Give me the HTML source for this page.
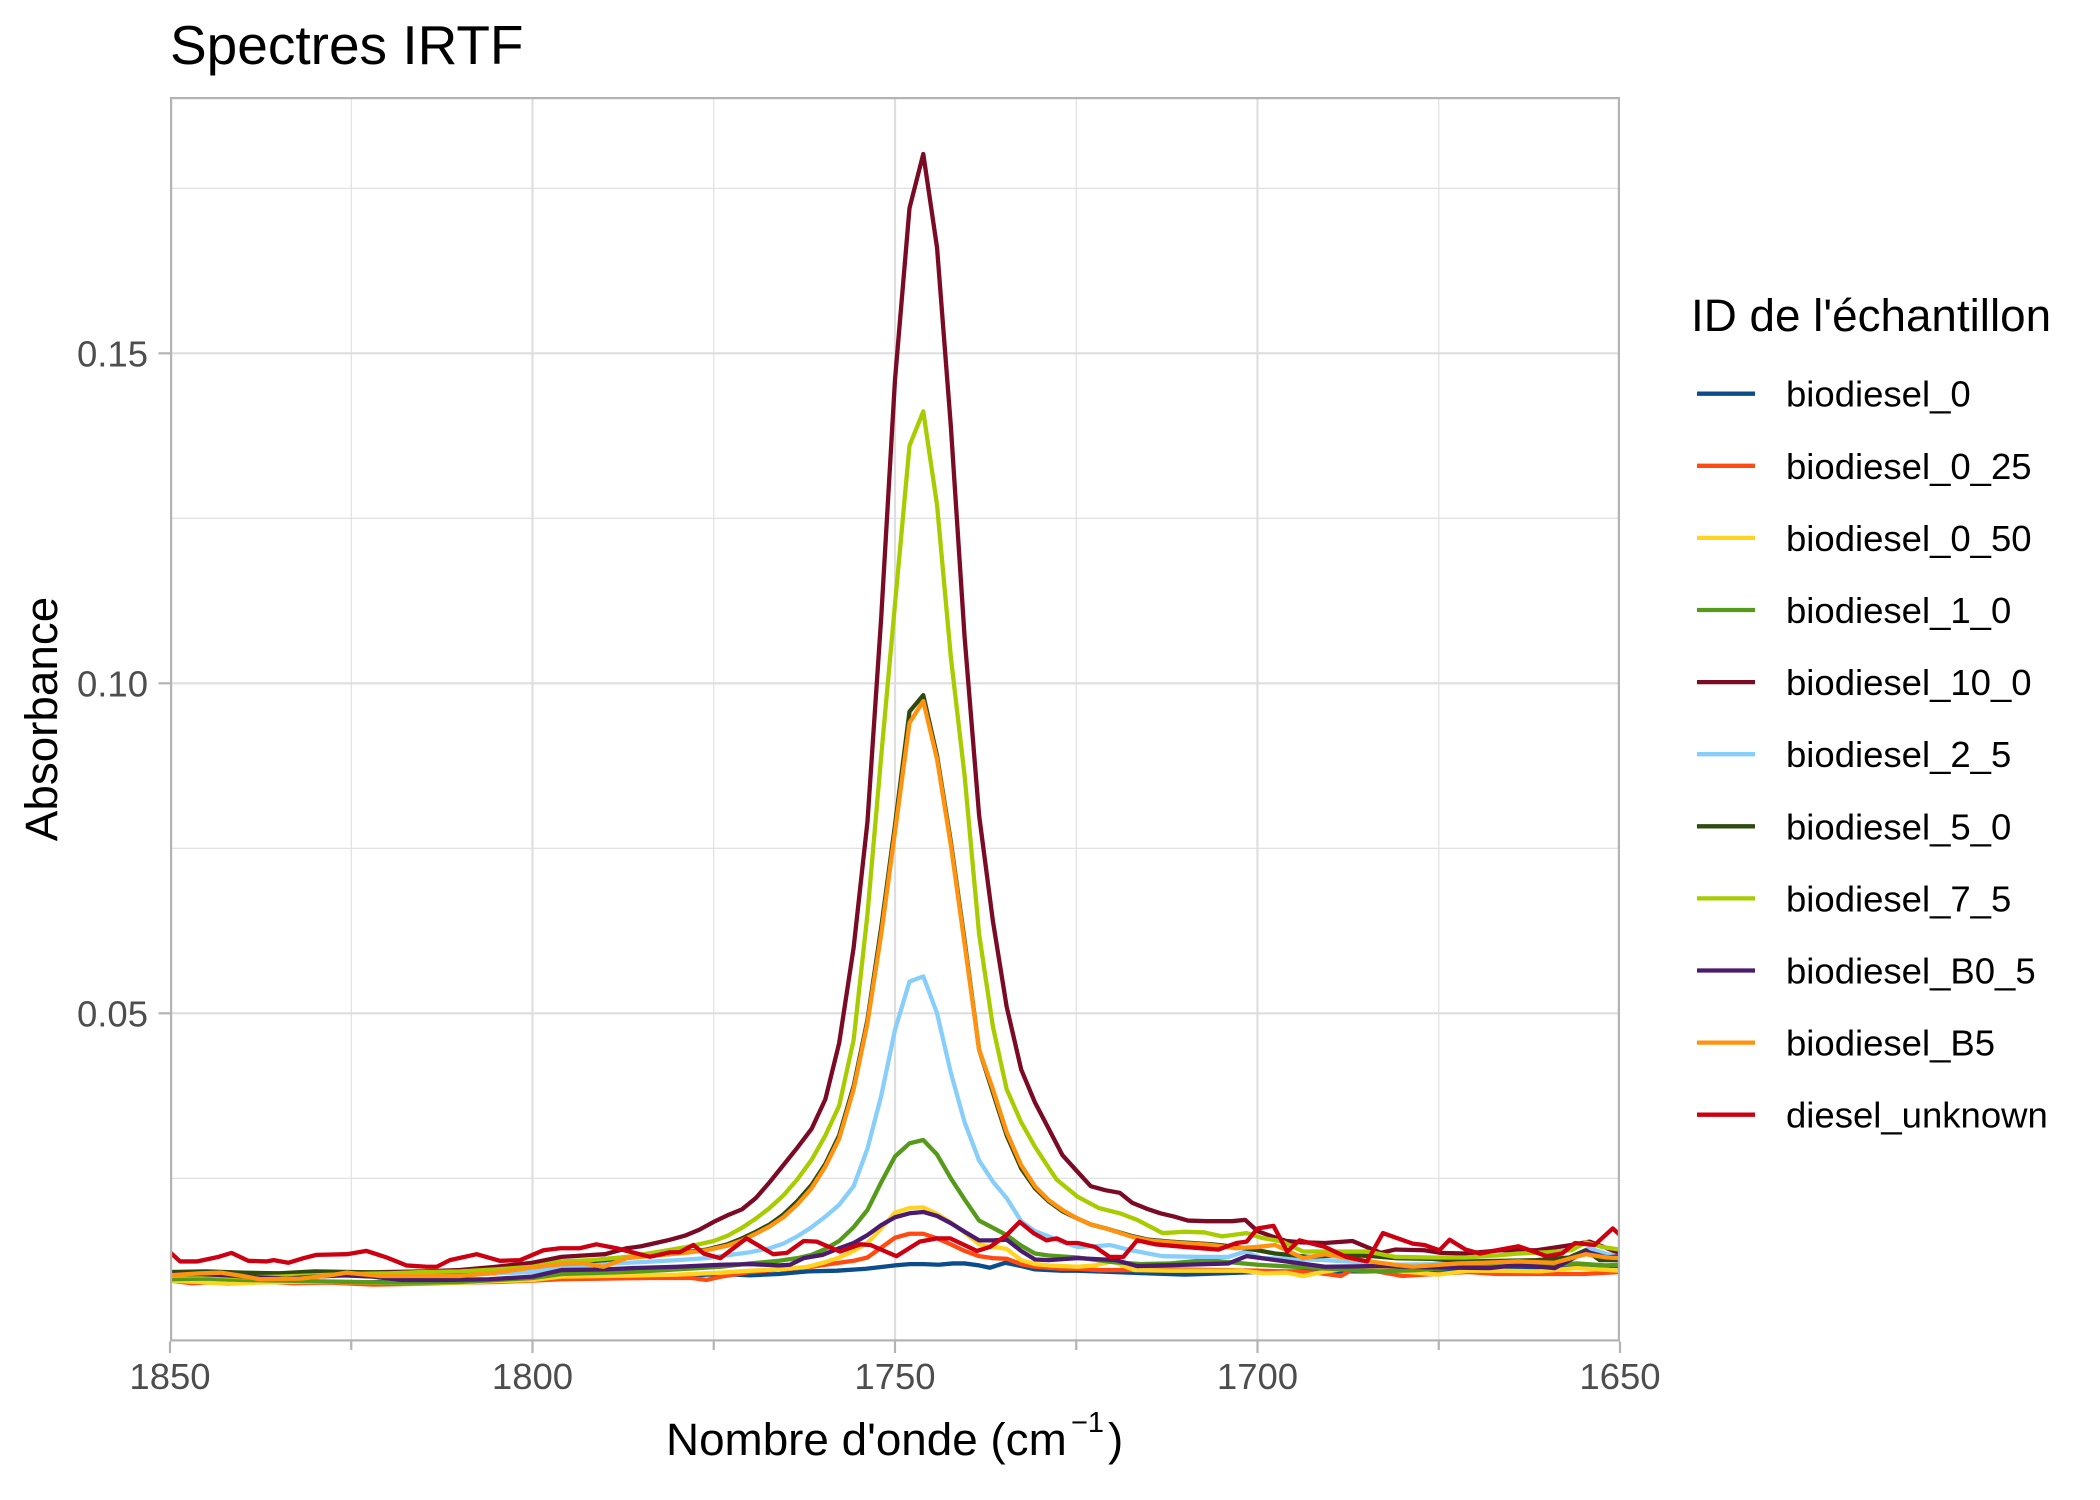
<!DOCTYPE html>
<html>
<head>
<meta charset="utf-8">
<style>
  html, body { margin: 0; padding: 0; background: #ffffff; }
  svg { display: block; }
  text { font-family: "Liberation Sans", Arial, sans-serif; }
</style>
</head>
<body>
<svg xmlns="http://www.w3.org/2000/svg" width="2100" height="1500" viewBox="0 0 2100 1500">
  <defs>
    <clipPath id="panel">
      <rect x="170" y="97" width="1450" height="1244.5"/>
    </clipPath>
  </defs>
  <rect x="0" y="0" width="2100" height="1500" fill="#ffffff"/>

  <!-- Title -->
  <text x="170" y="64" font-size="55" fill="#000000">Spectres IRTF</text>

  <!-- Grid -->
  <g clip-path="url(#panel)">
    <g stroke="#DEDEDE" stroke-width="1.1" fill="none">
      <line x1="170" y1="1178.3" x2="1620" y2="1178.3"/>
      <line x1="170" y1="848.3" x2="1620" y2="848.3"/>
      <line x1="170" y1="518.3" x2="1620" y2="518.3"/>
      <line x1="170" y1="188.3" x2="1620" y2="188.3"/>
      <line x1="351.25" y1="97" x2="351.25" y2="1342"/>
      <line x1="713.75" y1="97" x2="713.75" y2="1342"/>
      <line x1="1076.25" y1="97" x2="1076.25" y2="1342"/>
      <line x1="1438.75" y1="97" x2="1438.75" y2="1342"/>
    </g>
    <g stroke="#DEDEDE" stroke-width="2.2" fill="none">
      <line x1="170" y1="1013.3" x2="1620" y2="1013.3"/>
      <line x1="170" y1="683.3" x2="1620" y2="683.3"/>
      <line x1="170" y1="353.3" x2="1620" y2="353.3"/>
      <line x1="532.5" y1="97" x2="532.5" y2="1342"/>
      <line x1="895" y1="97" x2="895" y2="1342"/>
      <line x1="1257.5" y1="97" x2="1257.5" y2="1342"/>
    </g>

    <!-- Series -->
    <g fill="none" stroke-width="4.3" stroke-linejoin="round" stroke-linecap="butt">
      <g transform="matrix(-7.25 0 0 -6.6 13582.5 1343.3)">
        <polyline vector-effect="non-scaling-stroke" stroke="#0B4C8C" points="1850,9.6 1845,9.4 1840,9.3 1835,9.5 1830,9.3 1825,9.2 1820,9.3 1815,9.2 1810,9.3 1805,9.5 1800,9.7 1796,9.8 1790,9.9 1785,10.0 1780,10.2 1774,10.5 1770,10.3 1766,10.5 1762,10.9 1758,11.0 1754,11.3 1750,11.8 1748,12.0 1746,12.0 1744,11.9 1742,12.1 1740.4,12.1 1738.4,11.8 1736.9,11.45 1734.8,12.2 1732.6,11.7 1730.7,11.2 1727,11.0 1724.8,11.0 1720,10.8 1715,10.6 1710,10.4 1705,10.6 1700,10.8 1695,10.9 1690,10.9 1685,10.9 1680,11.0 1675,11.1 1670,11.1 1665,11.3 1660,11.6 1656,11.7 1653,11.8 1650,11.7"/>
        <polyline vector-effect="non-scaling-stroke" stroke="#FF4A12" points="1850,9.5 1847,9.1 1843,9.3 1838,9.4 1833,9.1 1828,9.2 1822,8.9 1816,9.0 1810,9.2 1805,9.3 1800,9.5 1796,9.7 1790,9.8 1784,9.9 1778,9.9 1776,9.6 1774,10.1 1770,10.8 1766,11.2 1762,11.5 1759.6,11.9 1757.7,12.2 1755.7,12.5 1753.8,13.0 1751.9,14.5 1750,16.0 1748,16.6 1746.1,16.6 1744.2,15.9 1742.3,15.0 1740.4,14.0 1738.4,13.2 1736.5,12.9 1734.6,12.8 1732.6,12.0 1730.7,11.6 1727,11.3 1724.8,11.3 1722,11.1 1718,11.1 1712,11.2 1705,11.1 1700,11.0 1696,10.9 1692,10.7 1688.5,10.2 1686.5,11.4 1683,10.8 1680,10.2 1677,10.4 1671,10.8 1667,10.5 1660,10.5 1655,10.5 1650,10.8"/>
        <polyline vector-effect="non-scaling-stroke" stroke="#FFD320" points="1850,9.5 1846,9.3 1842,9.0 1838,9.2 1833,9.3 1828,9.3 1822,9.2 1816,9.1 1810,9.2 1805,9.4 1800,9.6 1796,10.1 1790,10.2 1785,10.3 1780,10.4 1774,10.7 1770,11.0 1766,11.2 1762,11.6 1759.6,12.3 1757.7,13.0 1755.7,14.0 1753.8,15.2 1751.9,17.4 1750,19.8 1748,20.5 1746.1,20.6 1744.2,19.6 1742.3,18.3 1740.4,16.8 1738.4,15.0 1736.5,14.6 1734.6,14.3 1732.6,12.6 1730.7,12.0 1728.8,11.8 1724.8,11.6 1722.5,11.8 1720,12.4 1717,11.1 1712,11.0 1706,11.0 1702,11.0 1699,10.6 1696,10.7 1693.7,10.2 1691,10.8 1688,11.3 1685,11.6 1681,11.0 1678,10.7 1675,10.4 1671,11.0 1667,11.0 1661,10.9 1656,11.4 1653,11.2 1650,11.0"/>
        <polyline vector-effect="non-scaling-stroke" stroke="#569A1C" points="1850,9.7 1845,9.8 1840,9.6 1835,9.5 1830,9.4 1825,9.3 1820,9.2 1815,9.2 1810,9.3 1805,9.6 1800,9.9 1796,10.5 1790,10.7 1785,10.9 1780,11.2 1774,11.6 1770,12.1 1766,12.5 1763.5,12.9 1761.5,13.4 1759.6,14.3 1757.7,15.5 1755.7,17.6 1753.8,20.2 1751.9,24.4 1750,28.3 1748,30.3 1746.1,30.8 1744.2,28.6 1742.3,25.0 1740.4,21.8 1738.4,18.6 1736.5,17.5 1734.6,16.4 1732.6,14.8 1730.7,13.6 1728.8,13.3 1724.8,13.0 1720,12.3 1716,12.0 1712,12.1 1707,12.6 1703,12.2 1700,11.9 1695,11.6 1690,11.3 1686,11.0 1683,10.9 1678,11.1 1674,11.4 1670,11.7 1665,11.9 1660,11.8 1656,12.1 1652,11.8 1650,11.9"/>
        <polyline vector-effect="non-scaling-stroke" stroke="#7B0A25" points="1850,10.6 1845,10.5 1840,10.6 1835,10.6 1830,10.7 1825,10.7 1820,10.8 1815,10.9 1810,11.1 1805,11.6 1800,12.2 1796,13.1 1793,13.3 1790,13.5 1787,14.4 1785,14.7 1783,15.2 1781,15.7 1779,16.3 1777,17.2 1775,18.4 1773.1,19.4 1771.1,20.3 1769.2,22.0 1767.3,24.4 1765.4,27.0 1763.5,29.6 1761.5,32.5 1759.6,37.0 1757.7,45.5 1755.7,60 1753.8,79 1751.9,110 1750,146 1748,172 1746.1,180.2 1744.2,166 1742.3,139 1740.4,107 1738.4,80 1736.5,64 1734.6,51 1732.6,41.5 1730.7,36.5 1728.8,32.5 1726.9,28.5 1725,26.2 1723,23.8 1721,23.2 1719,22.8 1717.3,21.3 1715.3,20.4 1713.4,19.7 1711.5,19.2 1709.6,18.6 1707,18.5 1703.5,18.5 1701.7,18.7 1700,17.0 1698,16.2 1696,15.5 1694,15.3 1690.7,15.2 1686.9,15.5 1683,13.7 1681,14.2 1677,14.1 1674.7,13.7 1671.3,13.6 1666.4,14.1 1661.5,14.1 1656.7,14.9 1654.2,15.4 1652,14.5 1650,13.6"/>
        <polyline vector-effect="non-scaling-stroke" stroke="#87CEFA" points="1850,10.4 1846,10.9 1842,10.6 1838,10.0 1834,10.1 1830,10.2 1825,10.3 1820,10.0 1815,10.1 1810,10.3 1805,10.6 1800,10.8 1796,11.6 1790,12.0 1785,12.3 1780,12.6 1776,12.9 1774,13.2 1770,13.8 1767.3,14.4 1765.4,15.1 1763.5,16.2 1761.5,17.6 1759.6,19.2 1757.7,21.0 1755.7,23.8 1753.8,29.5 1751.9,37.5 1750,47.5 1748,54.8 1746.1,55.6 1744.2,50 1742.3,41 1740.4,33.5 1738.4,27.7 1736.5,24.5 1734.6,22.0 1732.6,18.5 1730.7,17.0 1728.8,16.2 1726.9,15.3 1724.8,14.6 1722.4,14.7 1720.4,14.9 1717.5,14.1 1713.1,13.2 1708,13.1 1704,13.1 1701.7,13.9 1699.5,12.9 1695,12.8 1690.7,12.6 1686,12.3 1681,11.9 1676,12.0 1671.3,12.2 1666,12.3 1661.5,12.1 1657,13.0 1654.2,14.4 1652,13.6 1650,13.1"/>
        <polyline vector-effect="non-scaling-stroke" stroke="#2E4A0E" points="1850,10.8 1845,10.9 1840,10.7 1835,10.6 1830,10.9 1825,10.8 1820,10.7 1815,10.6 1810,10.8 1805,11.1 1800,11.5 1796,12.1 1790,12.6 1787,13.0 1783,13.3 1779,13.8 1776,14.2 1773.1,15.0 1771.1,15.9 1769.2,16.9 1767.3,18.0 1765.4,19.5 1763.5,21.5 1761.5,24.0 1759.6,27.2 1757.7,31.5 1755.7,39 1753.8,49 1751.9,63 1750,78.5 1748,95.7 1746.1,98.2 1744.2,89 1742.3,76 1740.4,61 1738.4,44.5 1736.5,38 1734.6,31.5 1732.6,26.5 1730.7,23.5 1728.8,21.5 1726.9,20.0 1725,19.0 1723,18.0 1720.9,17.4 1717.5,16.3 1715.1,15.7 1712,15.4 1706.3,15.0 1703,14.6 1700,14.1 1697.6,13.6 1695.6,13.4 1693,13.1 1688,13.4 1684,13.2 1681,12.9 1676,12.8 1671,12.4 1666,12.5 1661.5,12.6 1657,13.0 1654.7,14.1 1652.8,12.6 1650,12.6"/>
        <polyline vector-effect="non-scaling-stroke" stroke="#A8CC00" points="1850,10.2 1845,10.3 1840,10.0 1835,10.1 1830,10.3 1825,10.5 1820,10.6 1815,10.8 1810,10.9 1805,11.2 1800,11.6 1796,12.4 1792,12.6 1787,13.1 1783,13.8 1778.7,14.6 1775,15.5 1773.1,16.3 1771.1,17.5 1769.2,18.9 1767.3,20.5 1765.4,22.4 1763.5,24.8 1761.5,27.8 1759.6,31.5 1757.7,36.0 1755.7,46 1753.8,65 1751.9,89 1750,112 1748,136 1746.1,141.2 1744.2,127 1742.3,104 1740.4,86 1738.4,62 1736.5,48 1734.6,38.5 1732.6,33.5 1730.7,29.8 1728.8,26.6 1727.7,24.8 1724.8,22.2 1721.9,20.5 1719,19.7 1716.6,18.7 1713.1,16.7 1710,16.9 1707.3,16.8 1704.9,16.2 1701.5,16.7 1699.5,16.0 1696.6,15.4 1693.7,13.9 1689,13.9 1684.9,13.9 1681,13.1 1676,13.0 1671.3,13.0 1667,13.3 1664,13.6 1660,13.8 1656.7,14.1 1654.7,15.3 1652.5,14.6 1650,14.2"/>
        <polyline vector-effect="non-scaling-stroke" stroke="#4A1B6E" points="1850,10.4 1846,10.5 1842,10.3 1838,10.0 1834,9.8 1830,10.1 1826,10.3 1822,10.1 1818,9.6 1812,9.6 1806,9.7 1800,10.1 1796,11.1 1790,11.2 1786,11.4 1780,11.6 1776,11.8 1774,11.9 1770,12.0 1766,11.8 1764.5,11.9 1762.6,12.9 1760,13.4 1757.7,14.4 1755.7,15.2 1753.8,16.4 1751.9,17.9 1750,19.1 1748,19.7 1746.1,19.9 1744.2,19.3 1742.3,18.2 1740.4,16.9 1738.4,15.6 1736.5,15.6 1734.6,15.7 1732.6,14.0 1730.7,12.7 1728.8,12.6 1724.8,12.9 1719.5,12.6 1716.6,11.7 1710,11.9 1704,12.1 1701.5,13.2 1696,12.4 1690.7,11.6 1683,11.7 1676,11.5 1668,11.4 1664,11.9 1659,11.4 1654.7,13.9 1651.8,13.0 1650,13.2"/>
        <polyline vector-effect="non-scaling-stroke" stroke="#FF930F" points="1850,10.3 1846,10.6 1843,10.7 1840,10.2 1837.6,9.7 1832,9.8 1828,10.3 1825.6,10.7 1821,10.2 1815,10.2 1810,10.2 1805,10.7 1800,11.5 1796,12.0 1793,12.1 1790.2,11.6 1787,12.9 1783,13.3 1779,13.7 1776,14.1 1773.1,14.8 1771.1,15.6 1769.2,16.6 1767.3,17.7 1765.4,19.1 1763.5,21.0 1761.5,23.5 1759.6,26.8 1757.7,31.0 1755.7,38.5 1753.8,48.5 1751.9,62 1750,77.5 1748,94 1746.1,97.3 1744.2,88.5 1742.3,75.5 1740.4,60.5 1738.4,44.5 1736.5,38.5 1734.6,32 1732.6,27 1730.7,23.8 1728.8,21.7 1726.9,20.2 1725,19.0 1723,18.0 1720.9,17.4 1717.5,16.2 1715.1,15.6 1712,15.3 1706.3,14.9 1703,14.4 1700,14.6 1697.6,14.9 1695.6,13.9 1693.7,12.9 1690.7,13.5 1688,13.0 1685.9,12.6 1681,11.9 1678.6,11.6 1672.3,12.1 1668.9,12.2 1664,12.4 1659.1,12.2 1654.7,13.5 1651.8,13.0 1650,12.9"/>
        <polyline vector-effect="non-scaling-stroke" stroke="#CC0010" points="1850,13.8 1848.6,12.4 1846.3,12.4 1843.3,13.1 1841.5,13.7 1839.2,12.5 1836.7,12.4 1835.7,12.6 1833.7,12.2 1831.6,12.9 1829.8,13.4 1825.6,13.5 1822.9,14.0 1820.1,13.0 1817.4,11.8 1814.6,11.6 1813.2,11.6 1811.4,12.6 1807.7,13.5 1804.5,12.5 1801.7,12.6 1798.5,14.1 1796.2,14.4 1793.5,14.4 1791.2,15.0 1788.4,14.4 1783.8,13.1 1781,13.8 1779.7,13.8 1777.8,14.9 1776.4,13.6 1774.1,12.9 1770.5,15.9 1766.8,13.5 1764.9,13.7 1762.6,15.5 1760.8,15.4 1757.6,13.9 1754.8,15.0 1753.4,14.9 1749.8,13.2 1746.6,15.4 1744.2,15.9 1742.4,15.9 1738.7,14.0 1736.9,14.6 1734.6,16.4 1732.8,18.4 1730.9,16.7 1729.1,15.6 1727.7,15.9 1726.3,15.2 1724.8,15.2 1722.4,14.6 1720.4,13.1 1718.5,13.1 1716.6,15.6 1714.1,15.0 1710,14.6 1705.4,14.2 1702.9,15.2 1701.5,15.4 1700,17.4 1697.8,17.8 1695.9,13.9 1694.2,15.6 1690.7,14.6 1687.8,13.1 1684.9,12.4 1682.7,16.7 1678.6,15.1 1677,14.9 1674.9,14.1 1673.5,15.7 1671.3,14.2 1669.3,13.6 1667,14.1 1664,14.7 1660.1,13.2 1658,13.6 1656.2,15.2 1653.5,14.9 1651,17.4 1650,16.4"/>
      </g>
    </g>

    <!-- Panel border (half clipped) -->
    <rect x="170" y="97" width="1450" height="1244.5" fill="none" stroke="#B3B3B3" stroke-width="4.4"/>
  </g>

  <!-- Y ticks -->
  <g stroke="#B3B3B3" stroke-width="2.2">
    <line x1="158.5" y1="1013.3" x2="170" y2="1013.3"/>
    <line x1="158.5" y1="683.3" x2="170" y2="683.3"/>
    <line x1="158.5" y1="353.3" x2="170" y2="353.3"/>
    <!-- X major ticks -->
    <line x1="170" y1="1341.5" x2="170" y2="1353"/>
    <line x1="532.5" y1="1341.5" x2="532.5" y2="1353"/>
    <line x1="895" y1="1341.5" x2="895" y2="1353"/>
    <line x1="1257.5" y1="1341.5" x2="1257.5" y2="1353"/>
    <line x1="1620" y1="1341.5" x2="1620" y2="1353"/>
    <!-- X minor ticks -->
    <line x1="351.25" y1="1341.5" x2="351.25" y2="1350"/>
    <line x1="713.75" y1="1341.5" x2="713.75" y2="1350"/>
    <line x1="1076.25" y1="1341.5" x2="1076.25" y2="1350"/>
    <line x1="1438.75" y1="1341.5" x2="1438.75" y2="1350"/>
  </g>

  <!-- Y tick labels -->
  <g font-size="36.5" fill="#4D4D4D" text-anchor="end">
    <text x="148" y="1026.3">0.05</text>
    <text x="148" y="696.3">0.10</text>
    <text x="148" y="366.3">0.15</text>
  </g>

  <!-- X tick labels -->
  <g font-size="36.5" fill="#4D4D4D" text-anchor="middle">
    <text x="170" y="1389">1850</text>
    <text x="532.5" y="1389">1800</text>
    <text x="895" y="1389">1750</text>
    <text x="1257.5" y="1389">1700</text>
    <text x="1620" y="1389">1650</text>
  </g>

  <!-- Axis titles -->
  <text x="666" y="1455" font-size="45.8" fill="#000000">Nombre d'onde (cm</text>
  <text x="1071" y="1432" font-size="29" fill="#000000">−1</text>
  <text x="1108" y="1455" font-size="45.8" fill="#000000">)</text>

  <text transform="translate(57,719) rotate(-90)" text-anchor="middle" font-size="45.8" fill="#000000">Absorbance</text>

  <!-- Legend -->
  <text x="1691" y="331" font-size="45.8" fill="#000000">ID de l'échantillon</text>
  <g stroke-width="4.3" fill="none">
    <line x1="1697" y1="393.7" x2="1755" y2="393.7" stroke="#0B4C8C"/>
    <line x1="1697" y1="465.8" x2="1755" y2="465.8" stroke="#FF4A12"/>
    <line x1="1697" y1="537.9" x2="1755" y2="537.9" stroke="#FFD320"/>
    <line x1="1697" y1="610.0" x2="1755" y2="610.0" stroke="#569A1C"/>
    <line x1="1697" y1="682.1" x2="1755" y2="682.1" stroke="#7B0A25"/>
    <line x1="1697" y1="754.2" x2="1755" y2="754.2" stroke="#87CEFA"/>
    <line x1="1697" y1="826.3" x2="1755" y2="826.3" stroke="#2E4A0E"/>
    <line x1="1697" y1="898.4" x2="1755" y2="898.4" stroke="#A8CC00"/>
    <line x1="1697" y1="970.5" x2="1755" y2="970.5" stroke="#4A1B6E"/>
    <line x1="1697" y1="1042.6" x2="1755" y2="1042.6" stroke="#FF930F"/>
    <line x1="1697" y1="1114.7" x2="1755" y2="1114.7" stroke="#CC0010"/>
  </g>
  <g font-size="36.5" fill="#000000">
    <text x="1786" y="406.7">biodiesel_0</text>
    <text x="1786" y="478.8">biodiesel_0_25</text>
    <text x="1786" y="550.9">biodiesel_0_50</text>
    <text x="1786" y="623.0">biodiesel_1_0</text>
    <text x="1786" y="695.1">biodiesel_10_0</text>
    <text x="1786" y="767.2">biodiesel_2_5</text>
    <text x="1786" y="839.3">biodiesel_5_0</text>
    <text x="1786" y="911.4">biodiesel_7_5</text>
    <text x="1786" y="983.5">biodiesel_B0_5</text>
    <text x="1786" y="1055.6">biodiesel_B5</text>
    <text x="1786" y="1127.7">diesel_unknown</text>
  </g>
</svg>
</body>
</html>
